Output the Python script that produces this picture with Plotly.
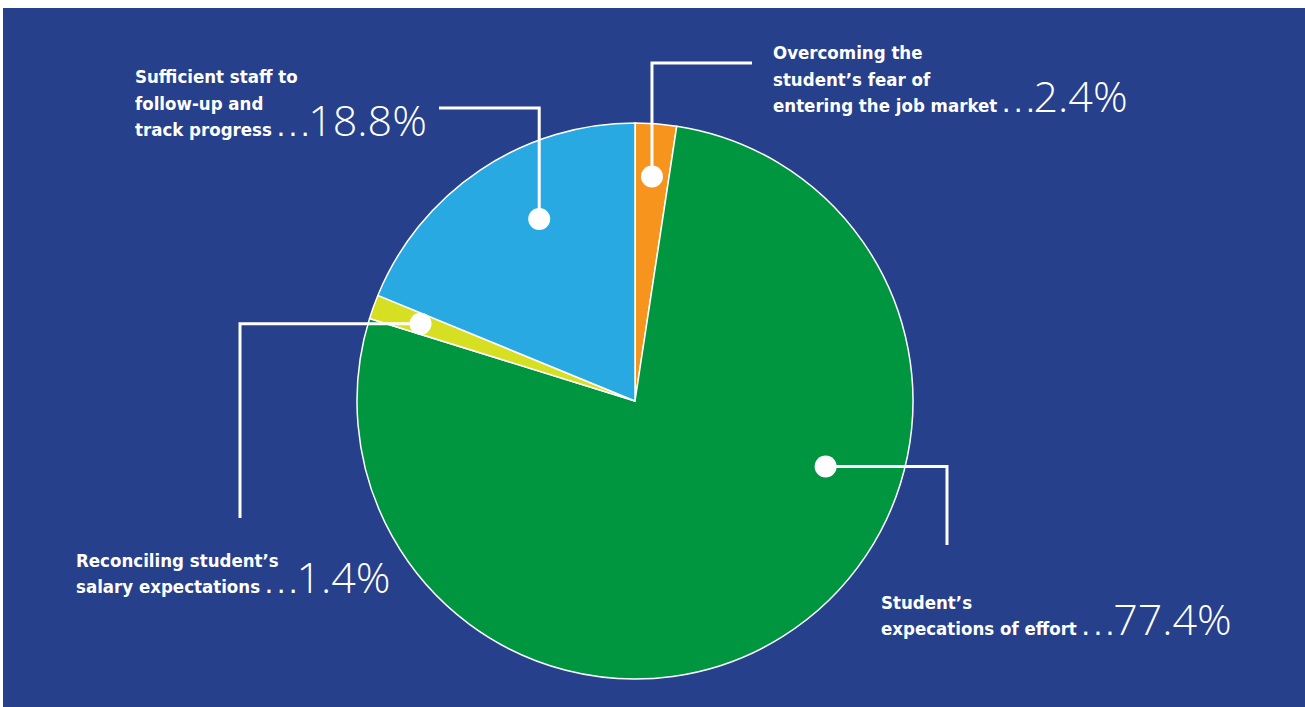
import math
import plotly.graph_objects as go

W, H = 1305, 707

# ---- data -------------------------------------------------------------
categories = [
    "Overcoming the student’s fear of entering the job market",
    "Student’s expecations of effort",
    "Reconciling student’s salary expectations",
    "Sufficient staff to follow-up and track progress",
]
values = [2.4, 77.4, 1.4, 18.8]
label_lines = [
    ["Overcoming the", "student’s fear of", "entering the job market"],
    ["Student’s", "expecations of effort"],
    ["Reconciling student’s", "salary expectations"],
    ["Sufficient staff to", "follow-up and", "track progress"],
]

# ---- styling ----------------------------------------------------------
colors = ["#F7941D", "#009640", "#D7DF23", "#29A9E1"]
BG = "#26408B"
CX, CY, R = 635, 401, 278          # pie centre / radius in pixels

LABEL_FONT = "DejaVu Sans Condensed, Roboto Condensed, Roboto, sans-serif"
LABEL_SIZE = 18.5
PCT_FONT = "Open Sans"
PCT_SIZE = 43
LINE_GAP = 26.5
DESC_LABEL = 0.236 * LABEL_SIZE + 2   # baseline -> bottom of annotation box
DESC_PCT = 0.293 * PCT_SIZE + 2

# callout layout per slice: position inside the slice (fraction of its
# sweep, fraction of radius), leader routing and label anchor (left x,
# baseline of first line, in pixels)
callouts = [
    dict(t=0.50, rf=0.81, route="v", elbow=63,  end=752, lx=773, base=59),
    dict(t=0.36, rf=0.725, route="h", elbow=947, end=545, lx=881, base=609),
    dict(t=0.50, rf=0.82, route="h", elbow=240, end=518, lx=76,  base=567),
    dict(t=0.59, rf=0.74, route="v", elbow=108, end=439, lx=135, base=83),
]


def px(x):
    return x / W


def py(y):
    return 1 - y / H


fig = go.Figure()

fig.add_trace(go.Pie(
    labels=categories,
    values=values,
    sort=False,
    direction="clockwise",
    rotation=0,
    marker=dict(colors=colors, line=dict(color="white", width=1.5)),
    textinfo="none",
    hoverinfo="label+percent",
    showlegend=False,
    domain=dict(x=[px(CX - R), px(CX + R)], y=[py(CY + R), py(CY - R)]),
))

shapes = [
    dict(type="rect", xref="paper", yref="paper", x0=px(3), x1=1, y0=0, y1=py(8),
         fillcolor=BG, line=dict(width=0), layer="below"),
]
annotations = []

total = sum(values)
cum = 0.0
for v, lines, c in zip(values, label_lines, callouts):
    a0 = cum / total * 360
    sweep = v / total * 360
    cum += v
    ang = math.radians(a0 + c["t"] * sweep)
    dx = CX + c["rf"] * R * math.sin(ang)
    dy = CY - c["rf"] * R * math.cos(ang)
    if c["route"] == "v":
        pts = [(dx, dy), (dx, c["elbow"]), (c["end"], c["elbow"])]
    else:
        pts = [(dx, dy), (c["elbow"], dy), (c["elbow"], c["end"])]
    path = "M " + " L ".join(f"{px(x):.5f},{py(y):.5f}" for x, y in pts)
    shapes.append(dict(type="path", xref="paper", yref="paper", path=path,
                       line=dict(color="white", width=3), layer="above"))
    rd = 11
    shapes.append(dict(type="circle", xref="paper", yref="paper",
                       x0=px(dx - rd), x1=px(dx + rd), y0=py(dy + rd), y1=py(dy - rd),
                       fillcolor="white", line=dict(width=0), layer="above"))

    # one annotation per text line; the last line carries the percentage
    for i, line in enumerate(lines):
        base = c["base"] + i * LINE_GAP
        last = i == len(lines) - 1
        if last:
            text = (f"<b>{line} . . .</b>"
                    f"<span style='font-family:{PCT_FONT};font-weight:300;"
                    f"font-size:{PCT_SIZE}px'>{v:.1f}%</span>")
            bottom = base + DESC_PCT
        else:
            text = f"<b>{line}</b>"
            bottom = base + DESC_LABEL
        annotations.append(dict(
            xref="paper", yref="paper", x=px(c["lx"] - 2), y=py(bottom),
            xanchor="left", yanchor="bottom", align="left", showarrow=False,
            text=text,
            font=dict(family=LABEL_FONT, size=LABEL_SIZE, color="white"),
        ))

fig.update_layout(
    width=W, height=H,
    margin=dict(l=0, r=0, t=0, b=0),
    paper_bgcolor="white",
    plot_bgcolor="rgba(0,0,0,0)",
    shapes=shapes,
    annotations=annotations,
)

fig.write_html("out.html")
